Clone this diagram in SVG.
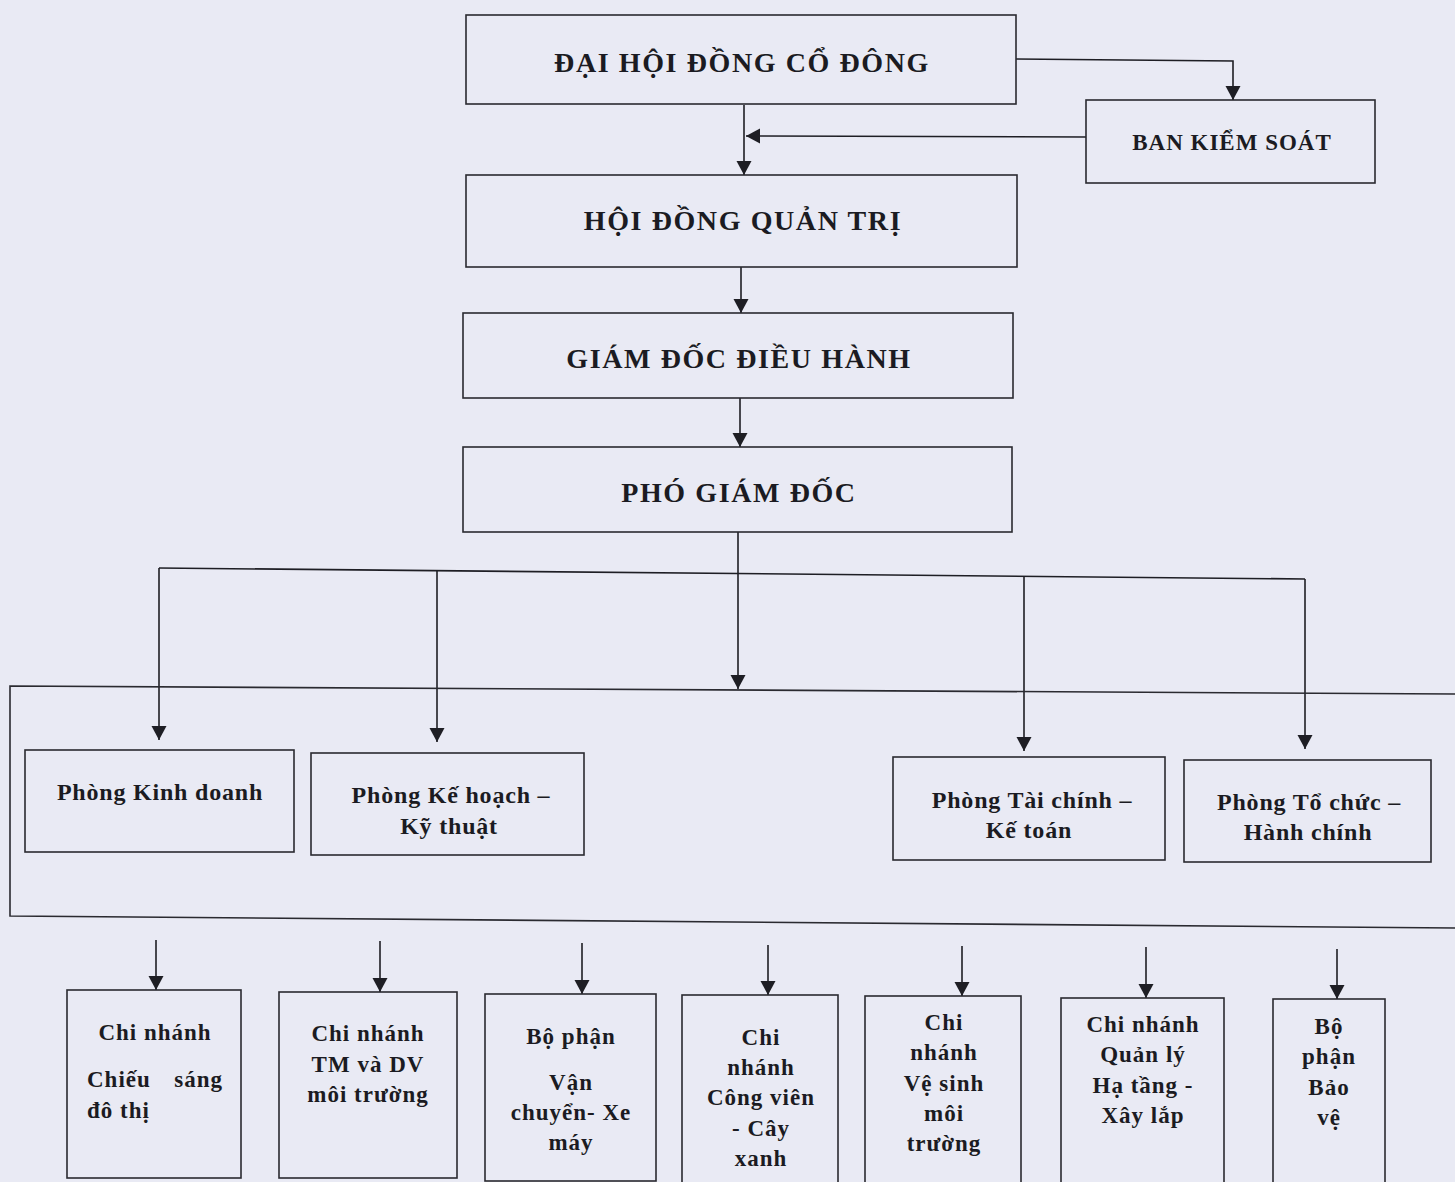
<svg xmlns="http://www.w3.org/2000/svg" width="1455" height="1182" viewBox="0 0 1455 1182">
<defs>
<marker id="ah" viewBox="0 0 14 18" refX="14" refY="9" markerWidth="14" markerHeight="18" markerUnits="userSpaceOnUse" orient="auto">
<path d="M0,1.5 L14,9 L0,16.5 Z" fill="#1e1e24"/>
</marker>
<style>
.bx{fill:none;stroke:#2a2a30;stroke-width:1.6}
.ln{fill:none;stroke:#1e1e24;stroke-width:1.6}
.ar{fill:none;stroke:#1e1e24;stroke-width:1.6;marker-end:url(#ah)}
.t{font-family:"Liberation Serif","Times New Roman",serif;font-weight:bold;fill:#1b1b22;text-anchor:middle}
.h{font-size:28px;letter-spacing:1.6px}
.m{font-size:24px;letter-spacing:0.8px}
.s{font-size:23px;letter-spacing:1px}
.l{text-anchor:start}
.r{text-anchor:end}
</style>
</defs>
<rect width="1455" height="1182" fill="#e9eaf4"/>

<g id="connectors">
<path class="ar" d="M1016,59 L1233,61 L1233,100"/>
<path class="ar" d="M1086,137 L746,136"/>
<path class="ar" d="M744,105 L744,175"/>
<path class="ar" d="M741,267 L741,313"/>
<path class="ar" d="M740,398 L740,447"/>
<path class="ar" d="M738,532 L738,689"/>
<path class="ln" d="M159,568 L1305,579"/>
<path class="ar" d="M159,568 L159,740"/>
<path class="ar" d="M437,571 L437,742"/>
<path class="ar" d="M1024,576 L1024,751"/>
<path class="ar" d="M1305,579 L1305,749"/>
<path class="ar" d="M156,940 L156,990"/>
<path class="ar" d="M380,941 L380,992"/>
<path class="ar" d="M582,943 L582,994"/>
<path class="ar" d="M768,945 L768,995"/>
<path class="ar" d="M962,946 L962,996"/>
<path class="ar" d="M1146,947 L1146,998"/>
<path class="ar" d="M1337,949 L1337,999"/>
</g>

<g id="container">
<path class="bx" d="M1455,694 L10,686 L10,916 L1455,928"/>
</g>

<g id="dai-hoi-dong-co-dong">
<rect class="bx" x="466" y="15" width="550" height="89"/>
<text class="t h" x="742" y="72">ĐẠI HỘI ĐỒNG CỔ ĐÔNG</text>
</g>
<g id="ban-kiem-soat">
<rect class="bx" x="1086" y="100" width="289" height="83"/>
<text class="t" style="font-size:23px;letter-spacing:1px" x="1232" y="150">BAN KIỂM SOÁT</text>
</g>
<g id="hoi-dong-quan-tri">
<rect class="bx" x="466" y="175" width="551" height="92"/>
<text class="t h" x="743" y="230">HỘI ĐỒNG QUẢN TRỊ</text>
</g>
<g id="giam-doc-dieu-hanh">
<rect class="bx" x="463" y="313" width="550" height="85"/>
<text class="t h" x="739" y="368">GIÁM ĐỐC ĐIỀU HÀNH</text>
</g>
<g id="pho-giam-doc">
<rect class="bx" x="463" y="447" width="549" height="85"/>
<text class="t h" x="739" y="502">PHÓ GIÁM ĐỐC</text>
</g>

<g id="phong-kinh-doanh">
<rect class="bx" x="25" y="750" width="269" height="102"/>
<text class="t m" x="160" y="800">Phòng Kinh doanh</text>
</g>
<g id="phong-ke-hoach-ky-thuat">
<rect class="bx" x="311" y="753" width="273" height="102"/>
<text class="t m" x="451" y="803">Phòng Kế hoạch –</text>
<text class="t m" x="449" y="834">Kỹ thuật</text>
</g>
<g id="phong-tai-chinh-ke-toan">
<rect class="bx" x="893" y="757" width="272" height="103"/>
<text class="t m" x="1032" y="808">Phòng Tài chính –</text>
<text class="t m" x="1029" y="838">Kế toán</text>
</g>
<g id="phong-to-chuc-hanh-chinh">
<rect class="bx" x="1184" y="760" width="247" height="102"/>
<text class="t m" x="1309" y="810">Phòng Tổ chức –</text>
<text class="t m" x="1308" y="840">Hành chính</text>
</g>

<g id="cn-chieu-sang">
<rect class="bx" x="67" y="990" width="174" height="188"/>
<text class="t s" x="155" y="1040">Chi nhánh</text>
<text class="t s l" x="87" y="1087">Chiếu</text>
<text class="t s r" x="223" y="1087">sáng</text>
<text class="t s l" x="87" y="1118">đô thị</text>
</g>
<g id="cn-tm-dv">
<rect class="bx" x="279" y="992" width="178" height="186"/>
<text class="t s" x="368" y="1041">Chi nhánh</text>
<text class="t s" x="368" y="1072">TM và DV</text>
<text class="t s" x="368" y="1102">môi trường</text>
</g>
<g id="bp-van-chuyen">
<rect class="bx" x="485" y="994" width="171" height="187"/>
<text class="t s" x="571" y="1044">Bộ phận</text>
<text class="t s" x="571" y="1090">Vận</text>
<text class="t s" x="571" y="1120">chuyển- Xe</text>
<text class="t s" x="571" y="1150">máy</text>
</g>
<g id="cn-cong-vien">
<rect class="bx" x="682" y="995" width="156" height="195"/>
<text class="t s" x="761" y="1045">Chi</text>
<text class="t s" x="761" y="1075">nhánh</text>
<text class="t s" x="761" y="1105">Công viên</text>
<text class="t s" x="761" y="1136">- Cây</text>
<text class="t s" x="761" y="1166">xanh</text>
</g>
<g id="cn-ve-sinh">
<rect class="bx" x="865" y="996" width="156" height="194"/>
<text class="t s" x="944" y="1030">Chi</text>
<text class="t s" x="944" y="1060">nhánh</text>
<text class="t s" x="944" y="1091">Vệ sinh</text>
<text class="t s" x="944" y="1121">môi</text>
<text class="t s" x="944" y="1151">trường</text>
</g>
<g id="cn-ha-tang">
<rect class="bx" x="1061" y="998" width="163" height="192"/>
<text class="t s" x="1143" y="1032">Chi nhánh</text>
<text class="t s" x="1143" y="1062">Quản lý</text>
<text class="t s" x="1143" y="1093">Hạ tầng -</text>
<text class="t s" x="1143" y="1123">Xây lắp</text>
</g>
<g id="bp-bao-ve">
<rect class="bx" x="1273" y="999" width="112" height="191"/>
<text class="t s" x="1329" y="1034">Bộ</text>
<text class="t s" x="1329" y="1064">phận</text>
<text class="t s" x="1329" y="1095">Bảo</text>
<text class="t s" x="1329" y="1125">vệ</text>
</g>
</svg>
